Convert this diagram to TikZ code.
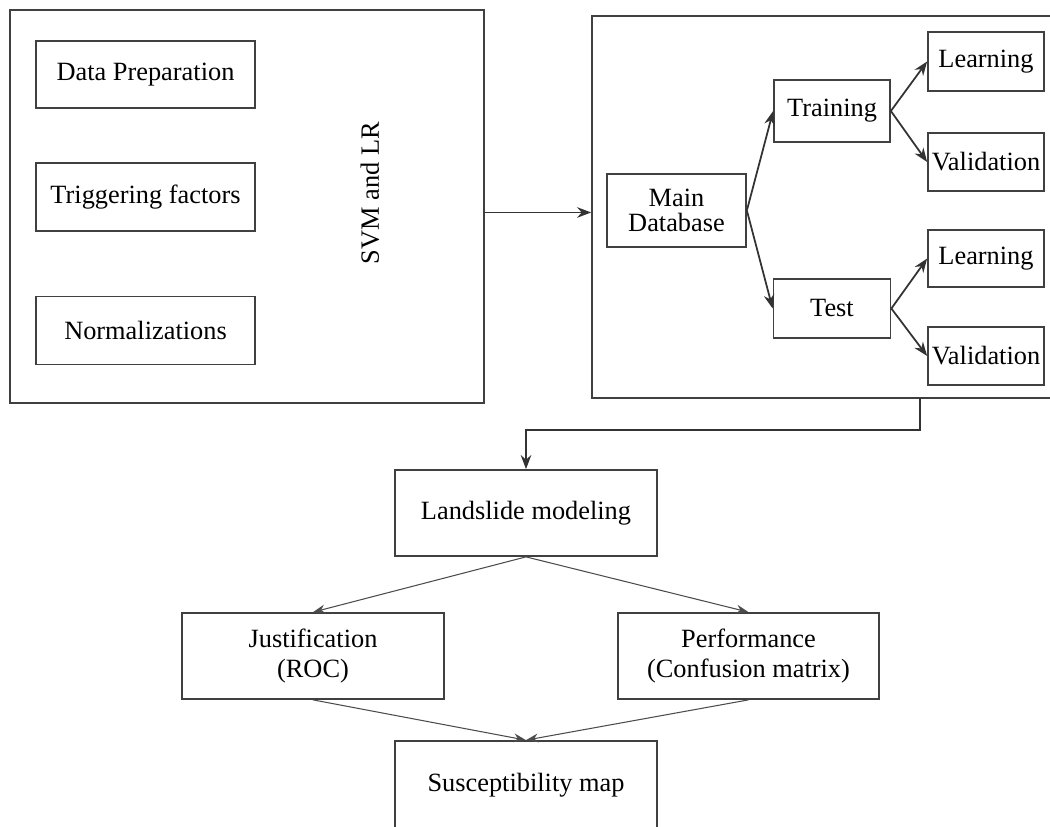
\documentclass[tikz,border=0pt]{standalone}
\usepackage{fontspec}
\setmainfont{Liberation Serif}
\usepackage{tikz}
\usetikzlibrary{calc, arrows.meta}
\usetikzlibrary{positioning}

\tikzset{
  box/.style={draw=black!75, line width=1pt, inner sep=0pt, align=center,
    font=\fontsize{15pt}{14pt}\selectfont},
  arr/.style={->, >={Stealth[length=8pt,width=6pt]}, draw=black!80, line width=1pt},
  tarr/.style={->, >={Stealth[length=7pt,width=5pt]}, draw=black!70, line width=0.6pt},
}

\begin{document}
\begin{tikzpicture}[x=0.02cm, y=-0.02cm]
    \useasboundingbox (0,0) rectangle (1050,827);
    \clip (0,0) rectangle (1050,827);
    % left block
    \node[box, minimum width=9.48cm, minimum height=7.86cm] (lbox) at (247,206.5) {};
    \node[box, minimum width=4.38cm, minimum height=1.34cm] (dprep) at (145.5,74.5) {Data Preparation};
    \node[box, minimum width=4.38cm, minimum height=1.36cm, below=1.06cm of dprep] (trig) {Triggering factors};
    \node[box, minimum width=4.38cm, minimum height=1.36cm, below=1.28cm of trig] (norm) {Normalizations};
    \node[font=\fontsize{15pt}{15pt}\selectfont, rotate=90] (svm) at (370,193) {SVM and LR};
    % right block
    \node[box, minimum width=9.4cm, minimum height=7.64cm] (rbox) at (827,207) {};
    \node[box, minimum width=2.78cm, minimum height=1.46cm] (maindb) at (676.5,210.5) {Main\\Database};
    \node[box, minimum width=2.32cm, minimum height=1.24cm] (train) at (832,111) {Training};
    \node[box, minimum width=2.34cm, minimum height=1.18cm] (test) at (832,308.5) {Test};
    \node[box, minimum width=2.32cm, minimum height=1.18cm] (learnA) at (986,61.5) {Learning};
    \node[box, minimum width=2.32cm, minimum height=1.16cm] (validA) at (986,162) {Validation};
    \node[box, minimum width=2.32cm, minimum height=1.14cm] (learnB) at (986,258.5) {Learning};
    \node[box, minimum width=2.32cm, minimum height=1.16cm] (validB) at (986,356) {Validation};
    % lower part
    \node[box, minimum width=5.24cm, minimum height=1.72cm] (land) at (526,513) {Landslide modeling};
    \node[box, minimum width=5.24cm, minimum height=1.72cm, font=\fontsize{15pt}{17pt}\selectfont] (just) at (313,656) {Justification\\(ROC)};
    \node[box, minimum width=5.22cm, minimum height=1.72cm, font=\fontsize{15pt}{17pt}\selectfont] (perf) at (748.5,656) {Performance\\(Confusion matrix)};
    \node[box, minimum width=5.24cm, minimum height=1.78cm] (susc) at (526,785.5) {Susceptibility map};
    \coordinate (rdown) at (920,398); %exit of right block

    \draw[arr] ([yshift=-3.4pt]lbox.east) -- ([yshift=-3.4pt]lbox.east -| rbox.west);
    \draw[arr] (maindb.east) -- (train.west);
    \draw[arr] (maindb.east) -- (test.west);
    \draw[arr] (train.east) -- (learnA.west);
    \draw[arr] (train.east) -- (validA.west);
    \draw[arr] (test.east) -- (learnB.west);
    \draw[arr] (test.east) -- (validB.west);
    \draw[arr] (rdown) -- ++(0,32) -| (land.north);
    \draw[tarr] (land.south) -- (just.north);
    \draw[tarr] (land.south) -- (perf.north);
    \draw[tarr] (just.south) -- (susc.north);
    \draw[tarr] (perf.south) -- (susc.north);
\end{tikzpicture}
\end{document}
